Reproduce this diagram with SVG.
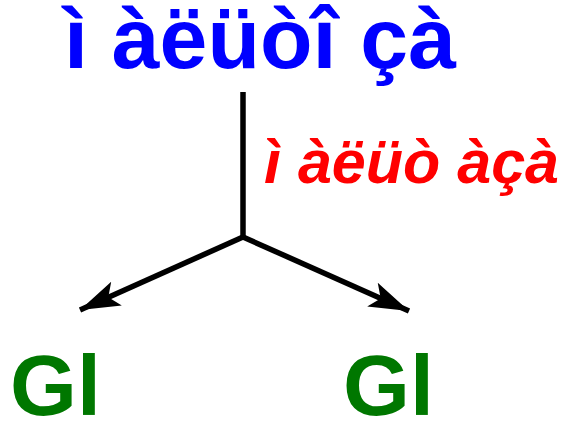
<svg xmlns="http://www.w3.org/2000/svg" width="567" height="424" viewBox="0 0 567 424">
<style>
text{font-family:"Liberation Sans",Arial,sans-serif;font-weight:bold}
.t{fill:#0000ff;font-size:86px}
.e{fill:#ff0000;font-size:61px;font-style:italic}
.g{fill:#007700;font-size:86px}
.c{stroke:#000;stroke-width:5.5;fill:none}
</style>
<defs>
<marker id="ah" markerUnits="userSpaceOnUse" markerWidth="42" markerHeight="28" refX="40" refY="13" orient="auto" viewBox="0 0 42 26">
<path d="M0,0 L40,13 L0,26 L9,13 Z" fill="#000"/>
</marker>
</defs>
<g id="maltose"><text class="t" x="64" y="68">ì àëüòî çà</text></g>
<g id="maltase"><text class="e" x="264" y="183">ì àëüò àçà</text></g>
<g id="gl1"><text class="g" x="10" y="415">Gl</text></g>
<g id="gl2"><text class="g" x="343" y="415">Gl</text></g>
<g id="connectors">
<path class="c" d="M243,92 L243,237"/>
<path class="c" d="M243,237 L80,310" marker-end="url(#ah)"/>
<path class="c" d="M243,237 L409,311" marker-end="url(#ah)"/>
</g>
</svg>
